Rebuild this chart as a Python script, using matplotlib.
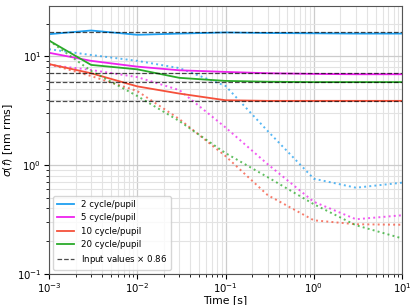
import numpy as np
import matplotlib
matplotlib.use('Agg')
import matplotlib.pyplot as plt

# time steps [s]
times = [1e-3, 3e-3, 1e-2, 3e-2, 1e-1, 3e-1, 1.0, 3.0, 10.0]

labels = ['2 cycle/pupil', '5 cycle/pupil', '10 cycle/pupil', '20 cycle/pupil']
colors = ['#1f9ff0', '#ee22ee', '#f5503a', '#2aaa2a']

# solid curves
sig_2 = [16.0, 17.3, 15.8, 16.2, 16.6, 16.4, 16.3, 16.2, 16.2]
sig_5 = [10.8, 9.1, 8.05, 7.45, 7.2, 7.0, 6.9, 6.85, 6.85]
sig_10 = [8.5, 7.0, 5.3, 4.55, 3.95, 3.9, 3.9, 3.9, 3.9]
sig_20 = [14.0, 8.35, 7.6, 6.35, 5.95, 5.85, 5.8, 5.8, 5.8]

# dotted curves
dot_2 = [11.65, 10.3, 9.1, 7.8, 5.35, 2.06, 0.75, 0.62, 0.69]
dot_5 = [8.35, 7.5, 6.45, 4.9, 2.22, 1.02, 0.46, 0.318, 0.346]
dot_10 = [8.5, 6.6, 4.8, 2.65, 1.21, 0.53, 0.311, 0.286, 0.283]
dot_20 = [14.0, 7.35, 4.32, 2.54, 1.29, 0.775, 0.437, 0.28, 0.212]

input_values = [19.3, 8.15, 6.75, 4.53]
scale = 0.86

solid = [sig_2, sig_5, sig_10, sig_20]
dotted = [dot_2, dot_5, dot_10, dot_20]

fig = plt.figure(figsize=(4.15, 3.05), dpi=100)
ax = fig.add_axes([0.118, 0.102, 0.851, 0.878])

for i in range(4):
    ax.plot(times, solid[i], '-', color=colors[i], lw=1.3, label=labels[i])
    ax.plot(times, dotted[i], ':', color=colors[i], lw=1.4, alpha=0.75)

for k, v in enumerate(input_values):
    ax.axhline(v * scale, color='k', ls='--', lw=0.9, alpha=0.7,
               label='Input values $\\times$ %.2f' % scale if k == 0 else None)

ax.set_xscale('log')
ax.set_yscale('log')
ax.set_xlim(1e-3, 10)
ax.set_ylim(0.1, 29)
ax.grid(True, which='major', color='#cccccc', lw=0.9)
ax.grid(True, which='minor', color='#e3e3e3', lw=0.8)
ax.tick_params(labelsize=7.3, pad=2)
for sp in ax.spines.values():
    sp.set_color('#555555')
ax.set_xlabel('Time [s]', fontsize=7.8, labelpad=0)
ax.set_ylabel(r'$\sigma(f)$ [nm rms]', fontsize=7.8, labelpad=1)
ax.legend(loc='lower left', fontsize=6.2, framealpha=0.8)

fig.savefig('out.png', dpi=100)
